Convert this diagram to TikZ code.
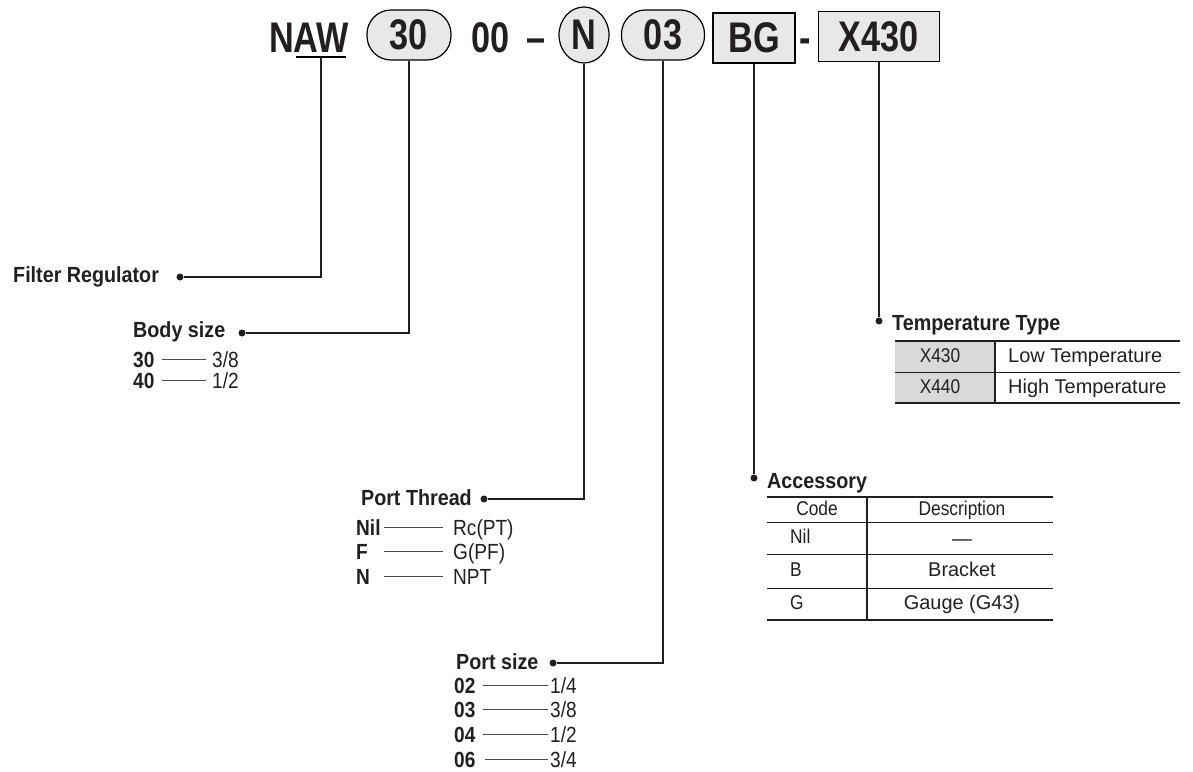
\documentclass[tikz,border=0pt]{standalone}
\usepackage{fontspec}
\setmainfont{Liberation Sans}
\newfontfamily\condfont[FakeStretch=0.87]{Liberation Sans}
\newfontfamily\headfont[FakeStretch=0.9]{Liberation Sans}
\newfontfamily\codefont[FakeStretch=0.8]{Liberation Sans}
\usetikzlibrary{calc,shapes.geometric}

\definecolor{boxgray}{gray}{0.91}
\definecolor{cellgray}{gray}{0.85}
\definecolor{ink}{HTML}{231F20}

\tikzset{
  codetext/.style={font=\codefont\bfseries\fontsize{43}{48}\selectfont, text=ink, inner sep=0pt},
  ovalbox/.style={codetext, draw, fill=boxgray, line width=1.2bp, rounded corners=24bp,
    minimum width=84bp, minimum height=50bp},
  ovalcircle/.style={codetext, ellipse, draw, fill=boxgray, line width=1.2bp,
    minimum width=50bp, minimum height=56bp},
  squarebox/.style={codetext, draw, fill=boxgray, line width=1.2bp,
    minimum width=82bp, minimum height=50bp},
  dot/.style={circle, fill=ink, inner sep=0pt, minimum size=7bp},
  conn/.style={line width=1.3bp, draw=ink},
  headtext/.style={font=\headfont\bfseries\fontsize{22}{26}\selectfont, text=ink, inner sep=0pt, anchor=base west},
  keytext/.style={font=\condfont\bfseries\fontsize{22}{26}\selectfont, text=ink, inner sep=0pt,
    anchor=base west, text height=15bp, text depth=0pt},
  valtext/.style={font=\condfont\fontsize{22}{26}\selectfont, text=ink, inner sep=0pt,
    anchor=base west, text height=15bp, text depth=0pt},
  codeline/.style={line width=0.9bp, draw=black!70},
  celltext/.style={font=\condfont\fontsize{20}{24}\selectfont, text=ink, inner sep=0pt,
    text height=14bp, text depth=4bp},
  celltextwide/.style={font=\fontsize{20}{24}\selectfont, text=ink, inner sep=0pt,
    text height=14bp, text depth=4bp},
  thinrule/.style={line width=1bp, draw=ink},
  thickrule/.style={line width=2bp, draw=ink}
}

\begin{document}
\begin{tikzpicture}[x=1bp,y=-1bp]
\useasboundingbox (0,0) rectangle (1193,772);

%%%%% model code %%%%%
\node[codetext, anchor=base] (cN) at (282,53) {N};
\node[codetext, anchor=base] (cAW) at (321,53) {AW};
\coordinate (uAW) at ($(cAW.base)+(0,4)$);
\draw[line width=1.3bp] ($(cAW.base west)+(3,4)$) -- ($(cAW.base east)+(-3,4)$);
\node[ovalbox] (cSize) at (409,35) {30};
\node[codetext, anchor=base] (cZero) at (491,53) {00};
\node[codetext, anchor=base] (cDashA) at (536,53) {\textendash};
\node[ovalcircle] (cThread) at (584,35) {N};
\node[ovalbox, minimum width=83bp] (cPort) at (663,35) {03};
\node[squarebox] (cAcc) at (754,38) {BG};
\node[codetext, anchor=base] (cDashB) at (805,53) {-};
\node[squarebox, minimum width=121bp] (cTemp) at (879,36.5) {X430};

%%%%% dots %%%%%
\node[dot] (dFilter) at (180,277) {};
\node[dot] (dBody) at (242,333) {};
\node[dot] (dThread) at (484,499) {};
\node[dot] (dPort) at (553,663) {};
\node[dot] (dAcc) at (754,478) {};
\node[dot] (dTemp) at (879,321) {};

%%%%% leaders %%%%%
\draw[conn] (uAW) |- (dFilter);
\draw[conn] (cSize.south) |- (dBody);
\draw[conn] (cThread.south) |- (dThread);
\draw[conn] (cPort.south) |- (dPort);
\draw[conn] (cAcc.south) -- (dAcc);
\draw[conn] (cTemp.south) -- (dTemp);

%%%%% Filter Regulator %%%%%
\node[headtext] (hFilter) at (13,282) {Filter Regulator};

%%%%% Body size %%%%%
\node[headtext] (hBody) at (133,337) {Body size};
\node[keytext] (k30) at (133,367) {30};
\node[valtext] (v30) at (212,367) {3/8};
\draw[codeline] ($(v30.west)+(-50,0)$) -- ($(v30.west)+(-6,0)$);
\node[keytext] (k40) at (133,388) {40};
\node[valtext] (v40) at (212,388) {1/2};
\draw[codeline] ($(v40.west)+(-50,0)$) -- ($(v40.west)+(-6,0)$);

%%%%% Port Thread %%%%%
\node[headtext, anchor=base east] (hThread) at (472,505) {Port Thread};
\node[keytext] (kNil) at (356,535) {Nil};
\node[valtext] (vNil) at (453,535) {Rc(PT)};
\draw[codeline] ($(vNil.west)+(-69,0)$) -- ($(vNil.west)+(-10,0)$);
\node[keytext] (kF) at (356,559) {F};
\node[valtext] (vF) at (453,559) {G(PF)};
\draw[codeline] ($(vF.west)+(-69,0)$) -- ($(vF.west)+(-10,0)$);
\node[keytext] (kNpt) at (356,584) {N};
\node[valtext] (vNpt) at (453,584) {NPT};
\draw[codeline] ($(vNpt.west)+(-69,0)$) -- ($(vNpt.west)+(-10,0)$);

%%%%% Port size %%%%%
\node[headtext] (hPort) at (456,669) {Port size};
\node[keytext] (k02) at (454,693) {02};
\node[valtext] (v02) at (550,693) {1/4};
\draw[codeline] ($(v02.west)+(-67,0)$) -- ($(v02.west)+(-2,0)$);
\node[keytext] (k03) at (454,717) {03};
\node[valtext] (v03) at (550,717) {3/8};
\draw[codeline] ($(v03.west)+(-67,0)$) -- ($(v03.west)+(-2,0)$);
\node[keytext] (k04) at (454,742) {04};
\node[valtext] (v04) at (550,742) {1/2};
\draw[codeline] ($(v04.west)+(-67,0)$) -- ($(v04.west)+(-2,0)$);
\node[keytext] (k06) at (454,767) {06};
\node[valtext] (v06) at (550,767) {3/4};
\draw[codeline] ($(v06.west)+(-65,0)$) -- ($(v06.west)+(-2,0)$);

%%%%% Accessory %%%%%
\node[headtext] (hAcc) at (767,488) {Accessory};
\draw[thickrule] (767,497) -- (1053,497);
\draw[thinrule] (767,522) -- (1053,522);
\draw[thinrule] (767,554) -- (1053,554);
\draw[thinrule] (767,588) -- (1053,588);
\draw[thickrule] (767,620) -- (1053,620);
\draw[line width=1.6bp, draw=ink] (867,497) -- (867,620);
\node[celltext] (aCode) at (817,510) {Code};
\node[celltext] (aDesc) at (962,510) {Description};
\node[celltext, anchor=west] (aNil) at (790,538) {Nil};
\node[celltextwide] (aNone) at (962,540) {---};
\node[celltext, anchor=west] (aB) at (790,571) {B};
\node[celltextwide] (aBracket) at (962,571) {Bracket};
\node[celltext, anchor=west] (aG) at (790,604) {G};
\node[celltextwide] (aGauge) at (962,604) {Gauge (G43)};

%%%%% Temperature Type %%%%%
\node[headtext] (hTemp) at (892,330) {Temperature Type};
\fill[cellgray] (895,341) rectangle (995,403);
\draw[thickrule] (895,341) -- (1180,341);
\draw[thinrule] (895,372) -- (1180,372);
\draw[thickrule] (895,403) -- (1180,403);
\draw[line width=1.6bp, draw=ink] (995,341) -- (995,403);
\node[celltext] (tLow) at (940,357) {X430};
\node[celltextwide, anchor=west] (tLowD) at (1008,357) {Low Temperature};
\node[celltext] (tHigh) at (940,388) {X440};
\node[celltextwide, anchor=west] (tHighD) at (1008,388) {High Temperature};

\end{tikzpicture}
\end{document}
